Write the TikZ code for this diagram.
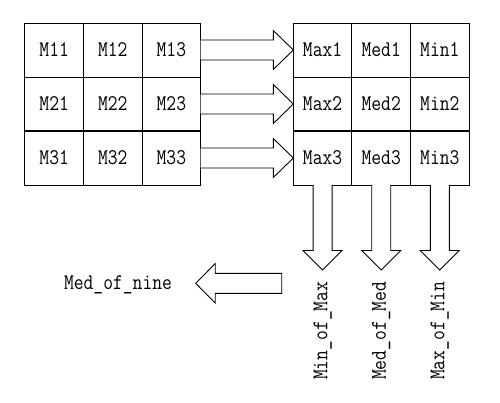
\documentclass[tikz,border=0pt]{standalone}
\usepackage{fontspec}
\newfontfamily\monof[FakeStretch=0.85]{Latin Modern Mono}
\usetikzlibrary{calc}
\begin{document}
\begin{tikzpicture}[x=1pt,y=-1pt,line width=0.9pt,
  txt/.style={font=\monof\fontsize{22.4}{22.4}\selectfont,inner sep=0pt},
  cell/.style={txt,draw,minimum width=58.6pt,minimum height=54pt,outer sep=0pt},
  barrow/.style={draw,fill=white,line join=miter}]
\useasboundingbox (0,0) rectangle (500,403);
% left grid
\node[cell] (m11) at (54.2,50) {M11};
\node[cell] (m12) at (112.8,50) {M12};
\node[cell] (m13) at (171.4,50) {M13};
\node[cell] (m21) at (54.2,104) {M21};
\node[cell] (m22) at (112.8,104) {M22};
\node[cell] (m23) at (171.4,104) {M23};
\node[cell] (m31) at (54.2,158) {M31};
\node[cell] (m32) at (112.8,158) {M32};
\node[cell] (m33) at (171.4,158) {M33};
\draw[line width=1.4pt] (m31.north west) -- (m33.north east);
% right grid
\node[cell] (x1) at (322.6,50) {Max1};
\node[cell] (e1) at (381.2,50) {Med1};
\node[cell] (n1) at (439.8,50) {Min1};
\node[cell] (x2) at (322.6,104) {Max2};
\node[cell] (e2) at (381.2,104) {Med2};
\node[cell] (n2) at (439.8,104) {Min2};
\node[cell] (x3) at (322.6,158) {Max3};
\node[cell] (e3) at (381.2,158) {Med3};
\node[cell] (n3) at (439.8,158) {Min3};
\draw[line width=1.4pt] (x3.north west) -- (n3.north east);
% right block arrows
\foreach \a/\b in {m13/x1,m23/x2,m33/x3}{
  \draw[barrow] ($(\a.east)+(0,-10)$) -- ($(\b.west)+(-20,-10)$) -- ($(\b.west)+(-20,-19.5)$)
    -- (\b.west) -- ($(\b.west)+(-20,19.5)$) -- ($(\b.west)+(-20,10)$) -- ($(\a.east)+(0,10)$);
}
% down block arrows
\coordinate (d1) at (322.6,270);
\coordinate (d2) at (381.2,270);
\coordinate (d3) at (439.8,270);
\foreach \a/\b in {x3/d1,e3/d2,n3/d3}{
  \draw[barrow] ($(\a.south)+(-9.5,0)$) -- ($(\b)+(-9.5,-19.5)$) -- ($(\b)+(-19.5,-19.5)$)
    -- (\b) -- ($(\b)+(19.5,-19.5)$) -- ($(\b)+(9.5,-19.5)$) -- ($(\a.south)+(9.5,0)$);
}
\node[txt,rotate=90] (l1) at (322.6,330.8) {Min\_of\_Max};
\node[txt,rotate=90] (l2) at (381.2,330.8) {Med\_of\_Med};
\node[txt,rotate=90] (l3) at (439.8,330.8) {Max\_of\_Min};
% left block arrow
\node[txt,anchor=base] (nine) at (118,289) {Med\_of\_nine};
\coordinate (ls) at (281.7,283.3);
\coordinate (lt) at (195.7,283.3);
\draw[barrow] (ls) ++(0,-10) -- ($(lt)+(19.5,-10)$) -- ($(lt)+(19.5,-19.7)$) -- (lt)
  -- ($(lt)+(19.5,19.7)$) -- ($(lt)+(19.5,10)$) -- ($(ls)+(0,10)$) -- cycle;
\end{tikzpicture}
\end{document}
